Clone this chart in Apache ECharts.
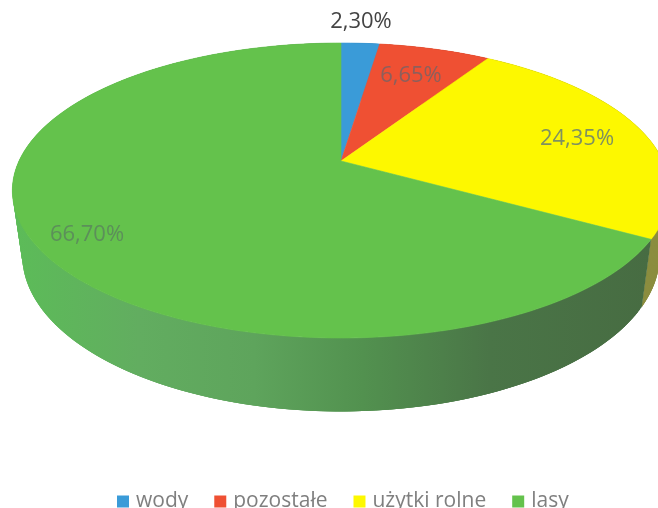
<!DOCTYPE html>
<html>
<head>
<meta charset="utf-8">
<style>
  html, body { margin: 0; padding: 0; background: #fff; overflow: hidden; }
  #chart { width: 658px; height: 508px; }
</style>
<script src="https://cdn.jsdelivr.net/npm/echarts@6/dist/echarts.min.js"></script>
</head>
<body>
<div id="chart"></div>
<script>
var categories = ['wody', 'pozostałe', 'użytki rolne', 'lasy'];
var values = [2.30, 6.65, 24.35, 66.70];
var colors = ['#3a9bd8', '#ef5033', '#fdf800', '#64c24c'];
var labelColors = ['#444444', '#8c5f5c', '#7f9160', '#5c8f5a'];
var labelSpots = [[361, 22], [411, 76], [577, 139], [87, 235]];

// perspective of the disc, picked to fit the reference
var cx = 341, cy = 161, ax = 322, by = 141.6, k = 0.2;
var depth = 63, shrink = 0.97;

function project(deg, r, s, drop) {
    var t = deg * Math.PI / 180;
    var u = Math.sin(t) * r, v = -Math.cos(t) * r;
    var w = 1 - k * v;
    return [cx + ax * u * s / w, cy + (by * v * s + drop) / w];
}

function arc(from, to, s, drop) {
    var pts = [];
    for (var d = from; d < to; d += 1) pts.push(project(d, 1, s, drop));
    pts.push(project(to, 1, s, drop));
    return pts;
}

var rimFill = new echarts.graphic.LinearGradient(12, 0, 650, 0, [
    { offset: 0, color: '#5cbc58' },
    { offset: 0.2, color: '#62ad60' },
    { offset: 0.38, color: '#5ea45c' },
    { offset: 0.55, color: '#52914f' },
    { offset: 0.75, color: '#4a7547' },
    { offset: 1, color: '#476c42' }
], true);
var rimFills = ['#2f7fb0', '#b83f28', '#8b8d3f', rimFill];

function sliceRender(index) {
    return function (params, api) {
        var start = 0;
        for (var i = 0; i < index; i++) start += values[i] * 3.6;
        var end = start + api.value(0) * 3.6;
        var topArc = arc(start, end, 1, 0);
        var lowArc = arc(start, end, shrink, depth);
        var text = api.value(0).toFixed(2).replace('.', ',') + '%';
        var children = [];
        // side wall as overlapping quads so there is no notch at the tangent and no seams
        for (var n = 0; n < topArc.length - 1; n++) {
            var next = Math.min(n + 3, topArc.length - 1);
            children.push({
                type: 'polygon',
                z2: 1,
                shape: { points: [topArc[n], topArc[next], lowArc[next], lowArc[n]] },
                style: { fill: rimFills[index] }
            });
        }
        children.push({
            type: 'polygon',
            z2: 2 + index,
            shape: { points: [[cx, cy]].concat(topArc) },
            style: { fill: colors[index], stroke: colors[index], lineWidth: 0.6 }
        });
        children.push({
            type: 'text',
            z2: 10,
            style: {
                x: labelSpots[index][0],
                y: labelSpots[index][1],
                text: text,
                fill: labelColors[index],
                font: '22px "Open Sans"',
                align: 'center',
                verticalAlign: 'middle'
            }
        });
        return { type: 'group', children: children };
    };
}

var chart = echarts.init(document.getElementById('chart'));
chart.setOption({
    animation: false,
    legend: {
        data: categories,
        left: 112,
        top: 486,
        icon: 'rect',
        itemWidth: 12,
        itemHeight: 12,
        itemGap: 26,
        textStyle: { color: '#7f7f7f', fontSize: 21, fontFamily: 'Open Sans', padding: [0, 0, 0, 2] }
    },
    series: categories.map(function (name, i) {
        return {
            name: name,
            type: 'custom',
            coordinateSystem: 'none',
            itemStyle: { color: colors[i] },
            renderItem: sliceRender(i),
            data: [[values[i]]]
        };
    })
});
</script>
</body>
</html>
